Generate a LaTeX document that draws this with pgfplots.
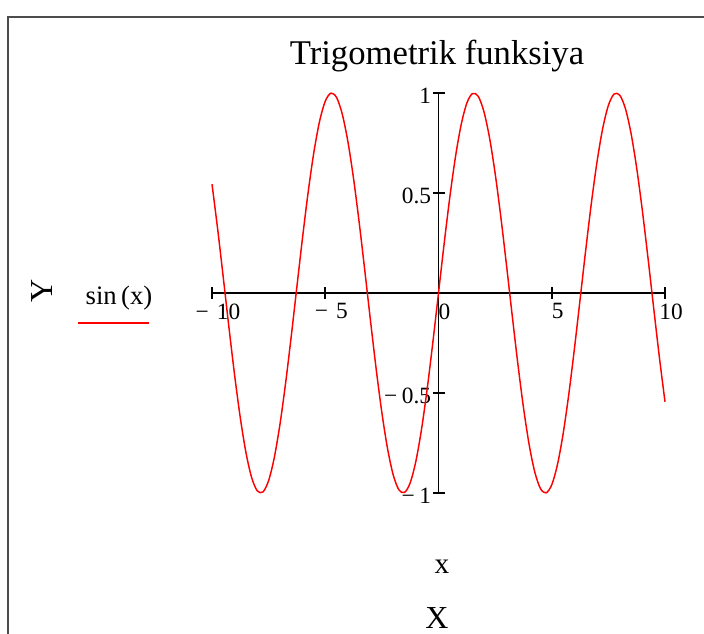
\documentclass[border=0pt]{standalone}
\usepackage{pgfplots}
\pgfplotsset{compat=1.18}
\usepackage{fontspec}
\setmainfont{Liberation Serif}
\definecolor{mcred}{RGB}{255,0,0}
\begin{document}
\begin{tikzpicture}
\path[use as bounding box] (0pt,0pt) rectangle (528pt,474.75pt);
\draw[line width=1.5pt, black!70] (6pt,-1pt) -- (6pt,462pt) -- (530pt,462pt);
\begin{axis}[
  at={(159pt,105pt)}, anchor=south west,
  scale only axis, width=339.75pt, height=300pt,
  xmin=-10, xmax=10, ymin=-1, ymax=1,
  enlargelimits=false, clip=false,
  axis lines=middle,
  hide obscured x ticks=false,
  hide obscured y ticks=false,
  axis line style={-, line width=1.1pt, black},
  xtick={-10,-5,0,5,10},
  xticklabels={−\hspace{0.35em}10,−\hspace{0.35em}5,0,5,10},
  ytick={-1,-0.5,0.5,1},
  yticklabels={−\hspace{0.2em}1,−\hspace{0.2em}0.5,0.5,1},
  tick align=center, major tick length=9pt,
  tick style={line width=1.2pt, black},
  ticklabel style={font=\fontsize{17.5}{19}\selectfont},
  xticklabel style={anchor=north, xshift=4.5pt},
  yticklabel style={anchor=east, yshift=-2pt, xshift=2.5pt},
]
\addplot[mcred, line width=1.1pt, smooth] coordinates {
(-10,0.5440) (-9.75,0.3195) (-9.5,0.0752) (-9.25,-0.1739) (-9,-0.4121)
(-8.75,-0.6247) (-8.5,-0.7985) (-8.25,-0.9228) (-8,-0.9894) (-7.75,-0.9946)
(-7.5,-0.9380) (-7.25,-0.8231) (-7,-0.6570) (-6.75,-0.4500) (-6.5,-0.2151)
(-6.25,0.0332) (-6,0.2794) (-5.75,0.5083) (-5.5,0.7055) (-5.25,0.8589)
(-5,0.9589) (-4.75,0.9993) (-4.5,0.9775) (-4.25,0.8950) (-4,0.7568)
(-3.75,0.5716) (-3.5,0.3508) (-3.25,0.1082) (-3,-0.1411) (-2.75,-0.3817)
(-2.5,-0.5985) (-2.25,-0.7781) (-2,-0.9093) (-1.75,-0.9840) (-1.5,-0.9975)
(-1.25,-0.9490) (-1,-0.8415) (-0.75,-0.6816) (-0.5,-0.4794) (-0.25,-0.2474)
(0,0)
(0.25,0.2474) (0.5,0.4794) (0.75,0.6816) (1,0.8415) (1.25,0.9490)
(1.5,0.9975) (1.75,0.9840) (2,0.9093) (2.25,0.7781) (2.5,0.5985)
(2.75,0.3817) (3,0.1411) (3.25,-0.1082) (3.5,-0.3508) (3.75,-0.5716)
(4,-0.7568) (4.25,-0.8950) (4.5,-0.9775) (4.75,-0.9993) (5,-0.9589)
(5.25,-0.8589) (5.5,-0.7055) (5.75,-0.5083) (6,-0.2794) (6.25,-0.0332)
(6.5,0.2151) (6.75,0.4500) (7,0.6570) (7.25,0.8231) (7.5,0.9380)
(7.75,0.9946) (8,0.9894) (8.25,0.9228) (8.5,0.7985) (8.75,0.6247)
(9,0.4121) (9.25,0.1739) (9.5,-0.0752) (9.75,-0.3195) (10,-0.5440)
};
\end{axis}
\node[anchor=base, font=\fontsize{26}{30}\selectfont] at (327.75pt,426pt) {Trigometrik funksiya};
\node[anchor=base, font=\fontsize{22}{26}\selectfont] at (331.5pt,45pt) {x};
\node[anchor=base, font=\fontsize{24}{28}\selectfont] at (327.75pt,3.75pt) {X};
\node[rotate=90, font=\fontsize{24}{28}\selectfont] at (31.5pt,256.5pt) {Y};
\node[anchor=base, font=\fontsize{20}{24}\selectfont] at (89.25pt,246pt) {sin\,(x)};
\draw[mcred, line width=1pt] (58.5pt,232.5pt) -- (111.75pt,232.5pt);
\end{tikzpicture}
\end{document}
